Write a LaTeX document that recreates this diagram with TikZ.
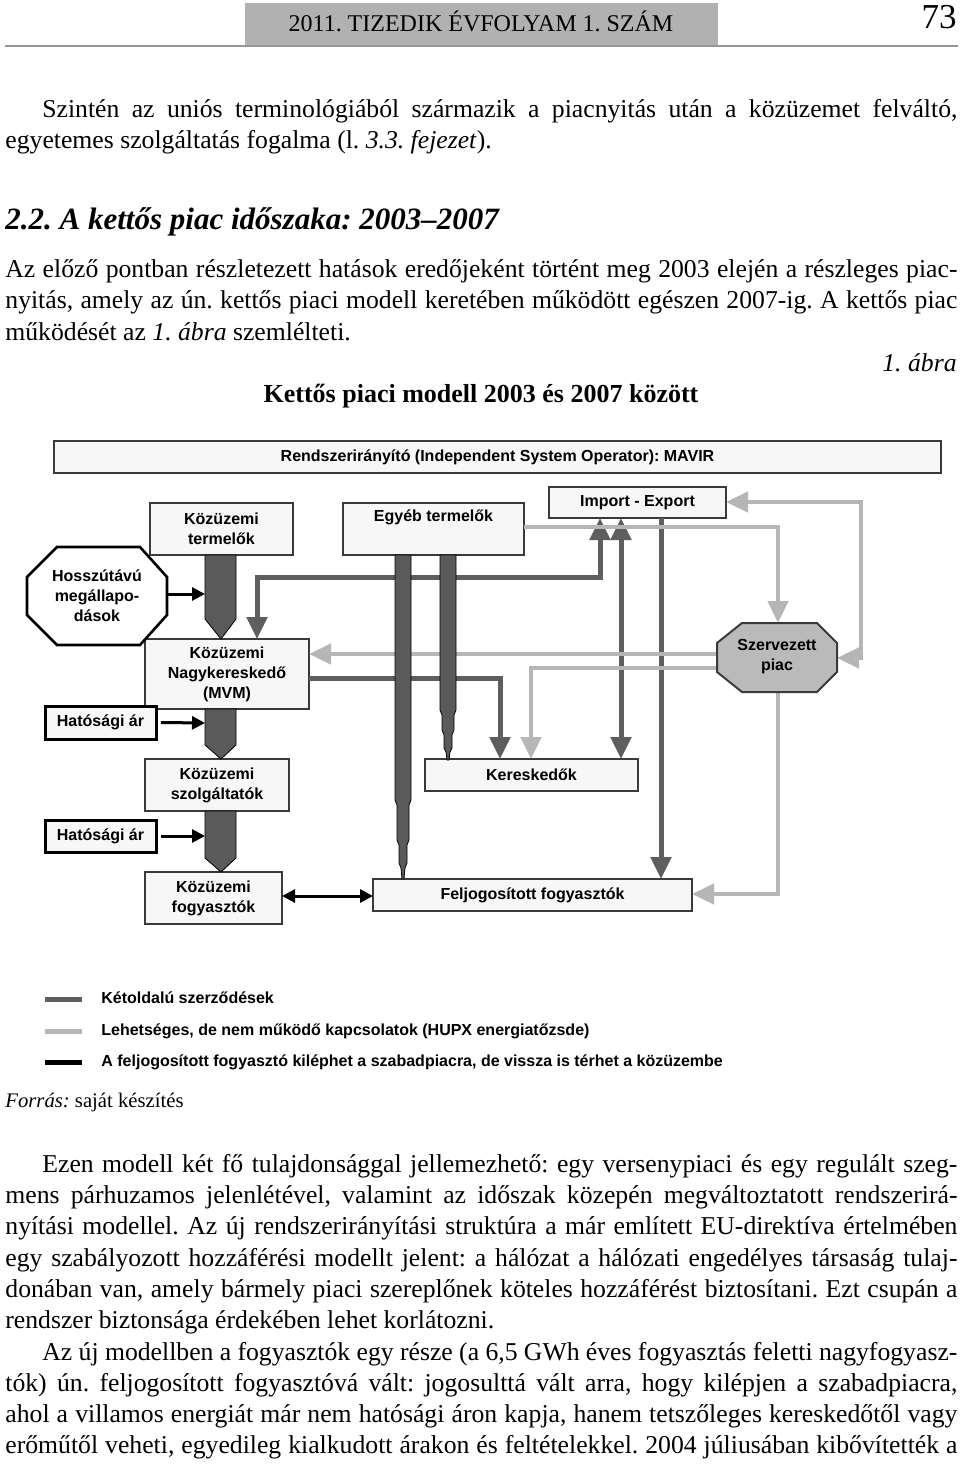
\documentclass[tikz,border=0pt]{standalone}
\usepackage{fontspec}
\setmainfont{Liberation Serif}
\newfontfamily\diagfont{Liberation Sans}
\usetikzlibrary{arrows.meta}
\definecolor{dgray}{HTML}{5E5E5E}
\definecolor{lgray}{HTML}{B6B6B6}
\definecolor{boxd}{HTML}{3A3A3A}
\definecolor{boxf}{HTML}{F7F7F7}
\definecolor{hdrgray}{HTML}{B1B1B1}
\definecolor{szpf}{HTML}{BABABA}
\definecolor{pencilf}{HTML}{5A5A5A}
\newcommand\bodyfs{\fontsize{12.85}{15}\selectfont}
\newcommand\dfont{\diagfont\bfseries\fontsize{8}{10}\selectfont}
\newcommand\jl[2]{\makebox[#1][s]{#2}}
\frenchspacing
\tikzset{
  tri/.tip={Triangle[width=10pt,length=11pt]},
  btri/.tip={Triangle[width=6.5pt,length=6.5pt]},
  txt/.style={anchor=mid west, inner sep=0pt, font=\bodyfs},
  box/.style={draw=boxd, line width=1pt, fill=boxf, inner sep=0pt, outer sep=0pt, align=center, font=\dfont},
  hbox/.style={box, draw=black, line width=1.5pt},
  dtext/.style={inner sep=0pt, align=center, font=\dfont},
  dk/.style={draw=dgray, line width=2.5pt},
  lt/.style={draw=lgray, line width=2.3pt},
  bk/.style={draw=black, line width=1.5pt},
  pencil/.style={fill=pencilf, draw=black, line width=0.4pt},
  legtxt/.style={anchor=mid west, inner sep=0pt, font=\diagfont\bfseries\fontsize{8}{9.5}\selectfont}
}
\begin{document}
\begin{tikzpicture}[x=0.5pt,y=-0.5pt]
\useasboundingbox (0,0) rectangle (960,1466);
\fill[white] (0,0) rectangle (960,1466);

% ---------- header ----------
\fill[hdrgray] (245,3) rectangle (718,45);
\draw[hdrgray!85!black, line width=1.2pt] (5,46) -- (958,46);
\node[anchor=mid, inner sep=0pt, font=\fontsize{12}{14}\selectfont] (hdr) at (481,27) {2011. TIZEDIK ÉVFOLYAM 1. SZÁM};
\node[anchor=mid east, inner sep=0pt, font=\fontsize{17.5}{20}\selectfont] (pg) at (957,24) {73};

% ---------- text above ----------
\node[txt] (p1a) at (42,113) {\jl{457.5pt}{Szintén az uniós terminológiából származik a piacnyitás után a közüzemet felváltó,}};
\node[txt] (p1b) at (5,144) {egyetemes szolgáltatás fogalma (l. \textit{3.3. fejezet}).};
\node[txt, font=\fontsize{15.5}{18}\selectfont\bfseries\itshape] (h22) at (5,225) {2.2. A kettős piac időszaka: 2003–2007};
\node[txt] (p2a) at (5,273) {\jl{476pt}{Az előző pontban részletezett hatások eredőjeként történt meg 2003 elején a részleges piac-}};
\node[txt] (p2b) at (5,304) {\jl{476pt}{nyitás, amely az ún. kettős piaci modell keretében működött egészen 2007-ig. A kettős piac}};
\node[txt] (p2c) at (5,336) {működését az \textit{1. ábra} szemlélteti.};
\node[anchor=mid east, inner sep=0pt, font=\bodyfs\itshape] (abra) at (957,367) {1. ábra};
\node[anchor=mid, inner sep=0pt, font=\fontsize{13}{15}\selectfont\bfseries] (capt) at (481,398) {Kettős piaci modell 2003 és 2007 között};

% ---------- diagram: coordinates ----------
\coordinate (hosszE) at (167,594);
\coordinate (p1W) at (205,594);
\coordinate (p2W) at (205,723);
\coordinate (p3W) at (205,836);
\coordinate (szpN) at (778,623);
\coordinate (szpS) at (778,692);
\coordinate (szpE) at (837,658);
\coordinate (szpW1) at (717,654);
\coordinate (szpW2) at (717,668);
\coordinate (c257) at (257,577);
\coordinate (c600) at (600,577);
\coordinate (c500) at (500,678);
\coordinate (c621) at (621,600);
\coordinate (c661) at (661,600);
\coordinate (c778a) at (778,527);
\coordinate (c861a) at (861,502);
\coordinate (c861b) at (861,658);
\coordinate (c531) at (531,668);
\coordinate (c778b) at (778,894);
\coordinate (c896) at (300,896);

% ---------- boxes ----------
\node[box, minimum width=443.5pt, minimum height=16pt] (mavir) at (497.5,457) {Rendszerirányító (Independent System Operator): MAVIR};
\node[box, minimum width=71.5pt, minimum height=26pt] (kt) at (221.5,529) {Közüzemi\\termelők};
\node[box, minimum width=90.5pt, minimum height=26pt] (egyeb) at (433.5,529) {};
\node[dtext] (egyebt) at (433.5,517) {Egyéb termelők};
\node[box, minimum width=88.5pt, minimum height=15.5pt] (imp) at (637.5,502.5) {Import - Export};
\node[box, minimum width=82pt, minimum height=35pt] (mvm) at (227,674) {Közüzemi\\Nagykereskedő\\(MVM)};
\node[box, minimum width=72pt, minimum height=26pt] (szolg) at (217,785) {Közüzemi\\szolgáltatók};
\node[box, minimum width=68.5pt, minimum height=26pt] (kf) at (213.5,898) {Közüzemi\\fogyasztók};
\node[box, minimum width=106.5pt, minimum height=16pt] (ker) at (531.5,775) {Kereskedők};
\node[box, minimum width=159.5pt, minimum height=16pt] (felj) at (532.5,895) {Feljogosított fogyasztók};
\node[hbox, minimum width=55.5pt, minimum height=16.5pt] (ha1) at (100.5,722.5) {Hatósági ár};
\node[hbox, minimum width=55.5pt, minimum height=16pt] (ha2) at (100.5,836) {Hatósági ár};

% ---------- octagons ----------
\filldraw[draw=black, line width=1.3pt, fill=white] (57,547) -- (140,547) -- (167,577) -- (167,615) -- (140,645) -- (57,645) -- (27,615) -- (27,577) -- cycle;
\node[dtext] (hossz) at (97,596) {Hosszútávú\\megállapo-\\dások};

% ---------- dark connectors ----------
\draw[dk, tri-tri] (mvm.north -| c257) -- (c257) -- (c600) -- (imp.south -| c600);
\draw[dk, -tri] (mvm.east |- c500) -- (c500) -- (ker.north -| c500);
\draw[dk, tri-tri] (imp.south -| c621) -- (ker.north -| c621);
\draw[dk, -tri] (imp.south -| c661) -- (felj.north -| c661);

% ---------- light connectors ----------
\draw[lt, -tri] (egyeb.east |- c778a) -- (c778a) -- (szpN);
\draw[lt, tri-tri] (imp.east |- c861a) -- (c861a) -- (c861b) -- (szpE);
\draw[lt, -tri] (szpW1) -- (mvm.east |- szpW1);
\draw[lt, -tri] (szpW2) -- (c531) -- (ker.north -| c531);
\draw[lt, -tri] (szpS) -- (c778b) -- (felj.east |- c778b);

% ---------- Szervezett piac ----------
\filldraw[draw=boxd, line width=1pt, fill=szpf] (742,623) -- (817,623) -- (837,643) -- (837,672) -- (817,692) -- (742,692) -- (717,672) -- (717,643) -- cycle;
\node[dtext] (szp) at (777,657) {Szervezett\\piac};

% ---------- tapered bars from Egyéb termelők ----------
\filldraw[pencil] (395,555) -- (411,555) -- (411,800) -- (409,805) -- (409,840) -- (407,845) -- (407,863) -- (405,868) -- (404,879) -- (402,879) -- (401,868) -- (399,863) -- (399,845) -- (397,840) -- (397,805) -- (395,800) -- cycle;
\filldraw[pencil] (440,555) -- (456,555) -- (456,710) -- (454,715) -- (454,730) -- (452,735) -- (452,748) -- (450,752) -- (449,760) -- (447,760) -- (446,752) -- (444,748) -- (444,735) -- (442,730) -- (442,715) -- (440,710) -- cycle;

% ---------- pencils of the public-utility chain ----------
\filldraw[pencil] (205,555) -- (236,555) -- (236,619) -- (221,639) -- (205,619) -- cycle;
\filldraw[pencil] (205,709) -- (236,709) -- (236,745) -- (221,759) -- (205,745) -- cycle;
\filldraw[pencil] (205,811) -- (236,811) -- (236,858) -- (221,872) -- (205,858) -- cycle;

% ---------- black arrows ----------
\draw[bk, -btri] (hosszE) -- (p1W);
\draw[bk, -btri] ([xshift=2.5pt]ha1.east) -- (p2W);
\draw[bk, -btri] ([xshift=2.5pt]ha2.east) -- (p3W);
\draw[bk, btri-btri] (kf.east |- c896) -- (felj.west |- c896);

% ---------- legend ----------
\draw[dgray, line width=2.5pt] (45,999) -- (82,999);
\draw[lgray, line width=2.5pt] (45,1031) -- (82,1031);
\draw[black, line width=2.5pt] (45,1062) -- (82,1062);
\node[legtxt] (leg1) at (101,999) {Kétoldalú szerződések};
\node[legtxt] (leg2) at (101,1031) {Lehetséges, de nem működő kapcsolatok (HUPX energiatőzsde)};
\node[legtxt] (leg3) at (101,1062) {A feljogosított fogyasztó kiléphet a szabadpiacra, de vissza is térhet a közüzembe};

% ---------- source and text below ----------
\node[txt, font=\fontsize{10.35}{12.5}\selectfont] (forras) at (5,1103) {\textit{Forrás:} saját készítés};
\node[txt] (p3a) at (42,1168) {\jl{457.5pt}{Ezen modell két fő tulajdonsággal jellemezhető: egy versenypiaci és egy regulált szeg-}};
\node[txt] (p3b) at (5,1199) {\jl{476pt}{mens párhuzamos jelenlétével, valamint az időszak közepén megváltoztatott rendszerirá-}};
\node[txt] (p3c) at (5,1230) {\jl{476pt}{nyítási modellel. Az új rendszerirányítási struktúra a már említett EU-direktíva értelmében}};
\node[txt] (p3d) at (5,1262) {\jl{476pt}{egy szabályozott hozzáférési modellt jelent: a hálózat a hálózati engedélyes társaság tulaj-}};
\node[txt] (p3e) at (5,1293) {\jl{476pt}{donában van, amely bármely piaci szereplőnek köteles hozzáférést biztosítani. Ezt csupán a}};
\node[txt] (p3f) at (5,1324) {rendszer biztonsága érdekében lehet korlátozni.};
\node[txt] (p4a) at (42,1356) {\jl{457.5pt}{Az új modellben a fogyasztók egy része (a 6,5 GWh éves fogyasztás feletti nagyfogyasz-}};
\node[txt] (p4b) at (5,1387) {\jl{476pt}{tók) ún. feljogosított fogyasztóvá vált: jogosulttá vált arra, hogy kilépjen a szabadpiacra,}};
\node[txt] (p4c) at (5,1418) {\jl{476pt}{ahol a villamos energiát már nem hatósági áron kapja, hanem tetszőleges kereskedőtől vagy}};
\node[txt] (p4d) at (5,1449) {\jl{476pt}{erőműtől veheti, egyedileg kialkudott árakon és feltételekkel. 2004 júliusában kibővítették a}};
\end{tikzpicture}
\end{document}
